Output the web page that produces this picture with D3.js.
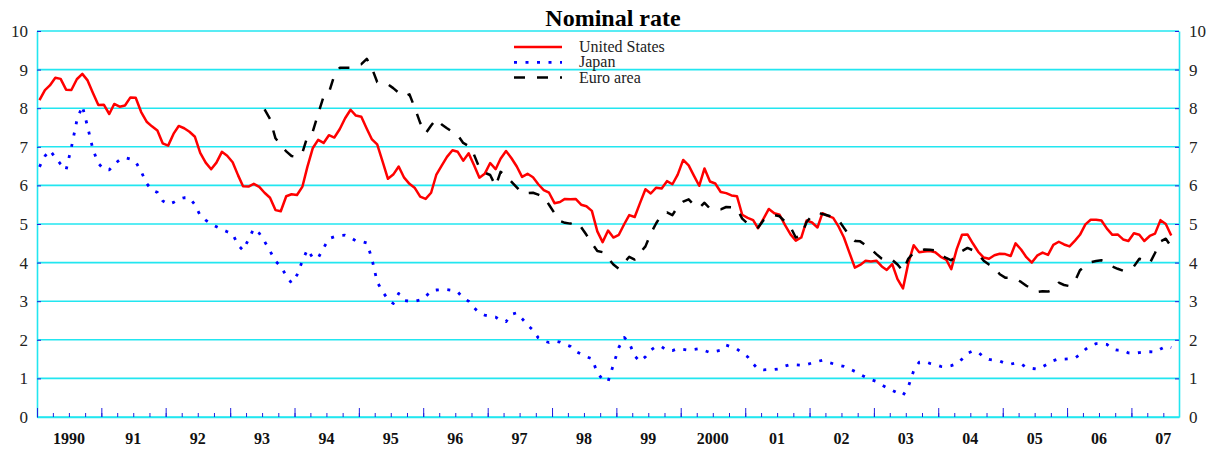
<!DOCTYPE html>
<html>
<head>
<meta charset="utf-8">
<script src="https://cdn.jsdelivr.net/npm/d3@7"></script>
<style>
  body { margin: 0; background: #fff; }
  svg text { font-family: "Liberation Serif", "Times New Roman", serif; }
</style>
</head>
<body>
<svg id="chart" width="1215" height="451"></svg>
<script>
// monthly averages, first value = January 1990 (Euro area starts July 1993)
var usStart = new Date(1990, 0, 15);
var japanStart = new Date(1990, 0, 15);
var euroStart = new Date(1993, 6, 15);

var usRate = [
    8.21, 8.47, 8.59, 8.79, 8.76, 8.48, 8.47, 8.75, 8.89, 8.72, 8.39, 8.08,
    8.09, 7.85, 8.11, 8.04, 8.07, 8.28, 8.27, 7.90, 7.65, 7.53, 7.42, 7.09,
    7.03, 7.34, 7.54, 7.48, 7.39, 7.26, 6.84, 6.59, 6.42, 6.59, 6.87, 6.77,
    6.60, 6.26, 5.98, 5.97, 6.04, 5.96, 5.81, 5.68, 5.36, 5.33, 5.72, 5.77,
    5.75, 5.97, 6.48, 6.97, 7.18, 7.10, 7.30, 7.24, 7.46, 7.74, 7.96, 7.81,
    7.78, 7.47, 7.20, 7.06, 6.63, 6.17, 6.28, 6.49, 6.20, 6.04, 5.93, 5.71,
    5.65, 5.81, 6.27, 6.51, 6.74, 6.91, 6.87, 6.64, 6.83, 6.53, 6.20, 6.30,
    6.58, 6.42, 6.69, 6.89, 6.71, 6.49, 6.22, 6.30, 6.21, 6.03, 5.88, 5.81,
    5.54, 5.57, 5.65, 5.64, 5.65, 5.50, 5.46, 5.34, 4.81, 4.53, 4.83, 4.65,
    4.72, 5.00, 5.23, 5.18, 5.54, 5.90, 5.79, 5.94, 5.92, 6.11, 6.03, 6.28,
    6.66, 6.52, 6.26, 5.99, 6.44, 6.10, 6.05, 5.83, 5.80, 5.74, 5.72, 5.24,
    5.16, 5.10, 4.89, 5.14, 5.39, 5.28, 5.24, 4.97, 4.73, 4.57, 4.65, 5.09,
    5.04, 4.91, 5.28, 5.21, 5.16, 4.93, 4.65, 4.26, 3.87, 3.94, 4.05, 4.03,
    4.05, 3.90, 3.81, 3.96, 3.57, 3.33, 3.98, 4.45, 4.27, 4.29, 4.30, 4.27,
    4.15, 4.08, 3.83, 4.35, 4.72, 4.73, 4.50, 4.28, 4.13, 4.10, 4.19, 4.23,
    4.22, 4.17, 4.50, 4.34, 4.14, 4.00, 4.18, 4.26, 4.20, 4.46, 4.54, 4.47,
    4.42, 4.57, 4.72, 4.99, 5.11, 5.11, 5.09, 4.88, 4.72, 4.73, 4.60, 4.56,
    4.76, 4.72, 4.56, 4.69, 4.75, 5.10, 5.00, 4.70
];

var japanRate = [
    6.48, 6.76, 6.91, 6.72, 6.55, 6.40, 6.98, 7.68, 8.06, 7.52, 6.92, 6.57,
    6.42, 6.40, 6.55, 6.66, 6.72, 6.68, 6.61, 6.36, 6.05, 5.88, 5.82, 5.60,
    5.51, 5.56, 5.64, 5.68, 5.68, 5.50, 5.22, 5.10, 5.00, 4.93, 4.86, 4.80,
    4.74, 4.45, 4.32, 4.60, 4.88, 4.76, 4.55, 4.30, 4.04, 3.90, 3.66, 3.47,
    3.68, 4.05, 4.34, 4.12, 4.12, 4.38, 4.62, 4.67, 4.70, 4.71, 4.65, 4.56,
    4.55, 4.51, 4.12, 3.50, 3.25, 3.05, 2.94, 3.20, 3.02, 3.00, 3.00, 3.03,
    3.12, 3.27, 3.29, 3.30, 3.30, 3.28, 3.24, 3.08, 3.00, 2.83, 2.70, 2.64,
    2.61, 2.59, 2.50, 2.47, 2.66, 2.70, 2.55, 2.38, 2.25, 2.05, 1.97, 1.93,
    1.97, 1.94, 1.88, 1.83, 1.70, 1.63, 1.56, 1.51, 1.15, 0.97, 0.92, 1.35,
    1.80, 2.06, 1.92, 1.58, 1.44, 1.56, 1.73, 1.83, 1.82, 1.72, 1.72, 1.77,
    1.75, 1.73, 1.75, 1.77, 1.72, 1.67, 1.70, 1.73, 1.86, 1.82, 1.76, 1.66,
    1.56, 1.38, 1.24, 1.22, 1.23, 1.23, 1.25, 1.32, 1.36, 1.35, 1.34, 1.36,
    1.40, 1.44, 1.47, 1.42, 1.38, 1.34, 1.31, 1.25, 1.18, 1.10, 1.03, 0.97,
    0.92, 0.83, 0.76, 0.69, 0.62, 0.56, 0.78, 1.20, 1.42, 1.44, 1.39, 1.36,
    1.31, 1.30, 1.33, 1.38, 1.50, 1.65, 1.71, 1.68, 1.55, 1.49, 1.47, 1.45,
    1.39, 1.37, 1.40, 1.38, 1.28, 1.26, 1.24, 1.30, 1.38, 1.46, 1.51, 1.50,
    1.51, 1.53, 1.62, 1.75, 1.85, 1.90, 1.90, 1.88, 1.76, 1.73, 1.73, 1.66,
    1.65, 1.67, 1.69, 1.69, 1.68, 1.76, 1.83, 1.80
];

var euroRate = [
                                        7.97, 7.72, 7.22, 7.05, 6.88, 6.76,
    6.74, 6.85, 7.26, 7.40, 7.85, 8.30, 8.40, 8.85, 9.05, 9.05, 9.05, 9.12,
    9.14, 9.28, 9.05, 8.68, 8.63, 8.62, 8.52, 8.40, 8.30, 8.36, 8.00, 7.62,
    7.35, 7.55, 7.72, 7.58, 7.48, 7.39, 7.30, 7.10, 7.02, 6.80, 6.45, 6.33,
    6.27, 5.98, 6.35, 6.25, 6.10, 5.95, 5.80, 5.80, 5.81, 5.76, 5.70, 5.50,
    5.28, 5.08, 5.03, 5.01, 5.06, 4.92, 4.72, 4.50, 4.30, 4.27, 4.12, 3.95,
    3.84, 4.00, 4.15, 4.08, 4.25, 4.42, 4.75, 5.02, 5.25, 5.30, 5.23, 5.45,
    5.58, 5.64, 5.50, 5.42, 5.55, 5.40, 5.39, 5.38, 5.44, 5.43, 5.40, 5.14,
    5.01, 4.99, 4.91, 5.10, 5.18, 5.23, 5.20, 5.06, 4.92, 4.65, 4.70, 5.05,
    5.22, 5.29, 5.26, 5.22, 5.18, 5.10, 4.90, 4.70, 4.56, 4.55, 4.45, 4.35,
    4.22, 4.10, 4.03, 4.07, 3.95, 3.78, 4.10, 4.26, 4.30, 4.34, 4.33, 4.32,
    4.20, 4.12, 4.06, 4.20, 4.30, 4.38, 4.32, 4.22, 4.05, 3.95, 3.87, 3.70,
    3.61, 3.61, 3.58, 3.50, 3.40, 3.32, 3.24, 3.26, 3.25, 3.30, 3.48, 3.42,
    3.39, 3.52, 3.80, 3.92, 4.01, 4.04, 4.06, 4.02, 3.90, 3.84, 3.79, 3.85,
    3.90, 4.10, 4.06, 3.98, 4.25, 4.55, 4.62, 4.41
];

var yearLabels = ["1990", "91", "92", "93", "94", "95", "96", "97", "98",
    "99", "2000", "01", "02", "03", "04", "05", "06", "07"];
var yTicks = [0, 1, 2, 3, 4, 5, 6, 7, 8, 9, 10];
var seriesNames = ["United States", "Japan", "Euro area"];

(function () {
    "use strict";
    var svg, x, y, left, right, top, bottom, line, series, legend;

    left = 37;
    right = 1179;
    top = 31;
    bottom = 417;

    svg = d3.select("#chart");

    x = d3.scaleTime()
        .domain([new Date(1990, 0, 1), new Date(2007, 8, 28)])
        .range([left, right]);
    y = d3.scaleLinear().domain([0, 10]).range([bottom, top]);

    var toPoints = function (start, values) {
        return values.map(function (v, i) {
            return { date: d3.timeMonth.offset(start, i), value: v };
        });
    };

    // grid
    svg.append("g").selectAll("line")
        .data(yTicks)
        .enter().append("line")
        .attr("x1", left)
        .attr("x2", right)
        .attr("y1", function (d) { return y(d); })
        .attr("y2", function (d) { return y(d); })
        .attr("stroke", "#22e6f0")
        .attr("stroke-width", 1.6);

    // y axes (labels on both sides)
    var styleAxis = function (g) {
        g.select(".domain").attr("stroke", "#22e6f0").attr("stroke-width", 1.6);
        g.selectAll(".tick line").attr("stroke", "#2020e0");
        g.selectAll(".tick text")
            .attr("fill", "#222")
            .style("font-size", "17px")
            .style("font-family", "'Liberation Serif', serif");
    };
    svg.append("g")
        .attr("transform", "translate(" + left + ",0)")
        .call(d3.axisLeft(y).tickValues(yTicks).tickSizeInner(-4).tickSizeOuter(0).tickPadding(9))
        .call(styleAxis);
    svg.append("g")
        .attr("transform", "translate(" + right + ",0)")
        .call(d3.axisRight(y).tickValues(yTicks).tickSizeInner(-4).tickSizeOuter(0).tickPadding(10))
        .call(styleAxis);

    // x axis: quarter ticks and year ticks pointing up
    var xq = svg.append("g")
        .attr("transform", "translate(0," + bottom + ")")
        .call(d3.axisBottom(x).ticks(d3.timeMonth.every(3)).tickSizeInner(-4).tickSizeOuter(0).tickFormat(""));
    xq.select(".domain").attr("stroke", "#22e6f0").attr("stroke-width", 1.6);
    xq.selectAll(".tick line").attr("stroke", "#2020e0");

    var xy = svg.append("g")
        .attr("transform", "translate(0," + bottom + ")")
        .call(d3.axisBottom(x).ticks(d3.timeYear).tickSizeInner(-9).tickSizeOuter(0).tickFormat(""));
    xy.select(".domain").remove();
    xy.selectAll(".tick line").attr("stroke", "#2020e0");

    svg.append("g").selectAll("text")
        .data(yearLabels)
        .enter().append("text")
        .attr("x", function (d, i) { return x(new Date(1990 + i, 6, 1)); })
        .attr("y", 444)
        .attr("text-anchor", "middle")
        .style("font-size", "16px")
        .style("font-weight", "bold")
        .attr("fill", "#111")
        .text(function (d) { return d; });

    // series
    line = d3.line()
        .x(function (d) { return x(d.date); })
        .y(function (d) { return y(d.value); });

    series = [
        { name: seriesNames[0], data: toPoints(usStart, usRate), color: "#ff0000", width: 2.5, dash: null },
        { name: seriesNames[1], data: toPoints(japanStart, japanRate), color: "#0000ff", width: 2.8, dash: "3,8.5" },
        { name: seriesNames[2], data: toPoints(euroStart, euroRate), color: "#000000", width: 2.5, dash: "11,12" }
    ];

    svg.append("g").selectAll("path")
        .data(series)
        .enter().append("path")
        .attr("d", function (d) { return line(d.data); })
        .attr("fill", "none")
        .attr("stroke", function (d) { return d.color; })
        .attr("stroke-width", function (d) { return d.width; })
        .attr("stroke-dasharray", function (d) { return d.dash; })
        .attr("stroke-linejoin", "round");

    // legend
    legend = svg.append("g").selectAll("g")
        .data(series)
        .enter().append("g")
        .attr("transform", function (d, i) { return "translate(514," + (47 + i * 15.3) + ")"; });
    legend.append("line")
        .attr("x1", 0)
        .attr("x2", 48)
        .attr("stroke", function (d) { return d.color; })
        .attr("stroke-width", function (d) { return d.width; })
        .attr("stroke-dasharray", function (d) { return d.dash; });
    legend.append("text")
        .attr("x", 65)
        .attr("y", 5)
        .style("font-size", "16px")
        .attr("fill", "#222")
        .text(function (d) { return d.name; });

    // title
    svg.append("text")
        .attr("x", 613)
        .attr("y", 26)
        .attr("text-anchor", "middle")
        .style("font-size", "24px")
        .style("font-weight", "bold")
        .text("Nominal rate");
}());
</script>
</body>
</html>
